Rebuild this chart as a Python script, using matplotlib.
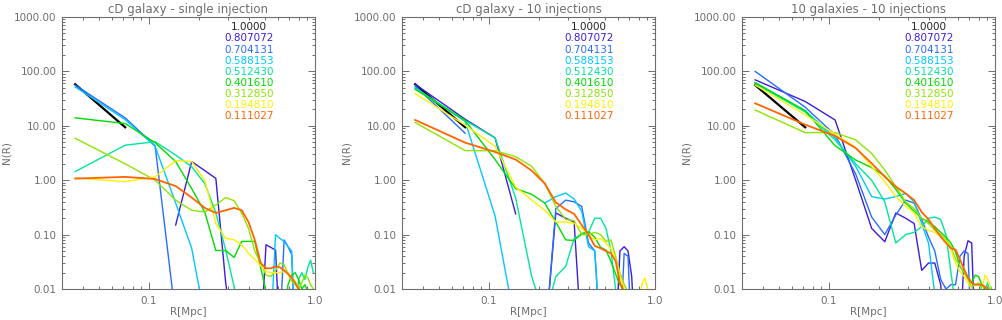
import numpy as np
import matplotlib
matplotlib.use("Agg")
import matplotlib.pyplot as plt
from matplotlib.ticker import FixedLocator, FixedFormatter, NullFormatter

nan = np.nan

# radial bins (Mpc)
R = [0.036, 0.072, 0.109, 0.145, 0.181, 0.217, 0.253, 0.290, 0.326, 0.362,
     0.398, 0.434, 0.471, 0.507, 0.543, 0.579, 0.615, 0.652, 0.688, 0.724,
     0.760, 0.796, 0.833, 0.869, 0.905, 0.941, 0.977]

labels = ["1.0000", "0.807072", "0.704131", "0.588153", "0.512430",
          "0.401610", "0.312850", "0.194810", "0.111027"]
colors = ["#000000", "#3c1edc", "#2a6cff", "#00c8ff", "#00e69a",
          "#00dc00", "#8ce600", "#fff000", "#ff6400"]
titles = ["cD galaxy - single injection", "cD galaxy - 10 injections",
          "10 galaxies - 10 injections"]

# --- cD galaxy, single injection
p1_black = [58, 9.4]
p1_dblue = [nan, nan, nan, 0.15, 2.2, 1.5, 1.08, 0.013, 0.001, nan, nan, nan,
            0.001, 0.065, 0.058, 0.052, 0.001]
p1_blue = [56, 14, 4.3, 0.003] + [nan] * 12 + [0.002, 0.08, 0.06, 0.043, 0.001]
p1_cyan = [52, 13, 4.2, 0.38, 0.056, 0.003] + [nan] * 8 + \
          [0.002, 0.1, 0.085, 0.075, 0.06, 0.05, 0.001]
p1_sgreen = [1.44, 4.4, 5.1, 2.9, 1.77, 0.87, 0.25, 0.052, 0.011, 0.001] + \
            [nan] * 10 + [0.002, 0.015, 0.02, 0.015, 0.025, 0.034, 0.02]
p1_green = [14, 11, 4.9, 2.2, 0.7, 0.26, 0.051, 0.051, 0.038, 0.075, 0.075,
            0.075, 0.025, 0.009, 0.004, nan, nan, 0.003, 0.012, 0.018, 0.02,
            0.015, 0.01, 0.012, 0.009, 0.006, 0.004]
p1_ygreen = [5.9, 2.0, 1.0, 0.43, 0.28, 0.26, 0.35, 0.48, 0.42, 0.25, 0.13,
             0.05, 0.03, 0.018, 0.017, 0.022, 0.03, 0.028, 0.019, 0.014,
             0.012, 0.01, 0.013, 0.018, 0.016, 0.012, 0.01]
p1_yellow = [1.1, 0.94, 1.15, 2.3, 2.2, 1.0, 0.16, 0.085, 0.08, 0.065, 0.045,
             0.035, 0.027, 0.021, 0.02, 0.02, 0.02, 0.021, 0.02, 0.016, 0.014,
             0.01, 0.008, 0.006]
p1_orange = [1.07, 1.15, 1.05, 0.78, 0.48, 0.31, 0.25, 0.28, 0.31, 0.28, 0.17,
             0.08, 0.03, 0.024, 0.024, 0.026, 0.025, 0.022, 0.019, 0.016,
             0.013, 0.01, 0.008, 0.006]

# --- cD galaxy, 10 injections
p2_black = [58, 9.4]
p2_dblue = [58, 13.2, 6.0, 0.24, nan, 0.001, 0.25, 0.2, 0.17, 0.001] + \
           [nan] * 5 + [0.001, 0.05, 0.06, 0.05, 0.017, 0.001]
p2_blue = [54, 7.3] + [nan] * 3 + [0.001, 0.3, 0.43, 0.4, 0.33, 0.07, 0.05,
                                   0.001] + [nan] * 3 + [0.001, 0.045, 0.04, 0.001]
p2_cyan = [50, 12, 0.22, 0.002, nan, 0.38, 0.5, 0.58, 0.45, 0.27, 0.06, 0.05,
           0.001]
p2_sgreen = [49, 12.5, 6.0, 0.47, 0.017, 0.003, 0.017, 0.026, 0.085, 0.1, 0.11,
             0.2, 0.2, 0.13, 0.05, 0.01, 0.001]
p2_green = [47, 12.5, 2.4, 0.7, 0.55, 0.38, 0.17, 0.08, 0.078, 0.105, 0.113,
            0.09, 0.058, 0.052, 0.032, 0.019, 0.012, 0.009, 0.007, 0.005]
p2_ygreen = [11.5, 3.5, 3.5, 2.7, 1.8, 0.87, 0.33, 0.19, 0.18, 0.1, 0.1, 0.11,
             0.1, 0.075, 0.08, 0.04, 0.02, 0.012, 0.009, 0.006]
p2_yellow = [39, 10.3, 4.2, 0.75, 0.43, 0.28, 0.17, 0.17, 0.16, 0.13, 0.1,
             0.08, 0.085, 0.07, 0.055, 0.035, 0.018, 0.01, 0.008, 0.006, 0.005,
             0.004, 0.012, 0.016, 0.01, 0.004]
p2_orange = [12.8, 4.9, 3.3, 2.4, 1.5, 0.87, 0.39, 0.29, 0.24, 0.15, 0.1,
             0.062, 0.056, 0.05, 0.045, 0.033, 0.013, 0.009, 0.007]

# --- 10 galaxies, 10 injections
p3_black = [56, 9.4]
p3_dblue = [70, 28, 12.8, 1.0, 0.13, 0.074, 0.25, 0.2, 0.16, 0.022, 0.03, 0.03,
            0.012, 0.001, nan, nan, 0.001, 0.04, 0.077, 0.07, 0.001]
p3_blue = [100, 22, 6.8, 1.3, 0.21, 0.1, 0.23, 0.43, 0.38, 0.19, 0.09, 0.05,
           0.015, 0.01, 0.012, 0.012, 0.04, 0.05, 0.045, 0.001]
p3_cyan = [62, 19, 6.0, 1.8, 0.5, 0.45, 0.5, 0.57, 0.4, 0.16, 0.07, 0.008,
           0.001]
p3_sgreen = [60, 18, 5.5, 2.0, 1.0, 0.4, 0.07, 0.1, 0.11, 0.14, 0.2, 0.21,
             0.19, 0.1, 0.02, 0.005] + [nan] * 5 + \
            [0.005, 0.012, 0.01, 0.013, 0.008, 0.005]
p3_green = [62, 19, 4.3, 2.35, 1.7, 1.2, 0.68, 0.38, 0.27, 0.2, 0.17, 0.14,
            0.11, 0.09, 0.07, 0.048, 0.026, 0.02, 0.017, 0.013, 0.018, 0.017,
            0.012, 0.01, 0.009, 0.011, 0.008]
p3_ygreen = [19.5, 7.5, 7.5, 5.5, 3.1, 1.54, 0.76, 0.4, 0.3, 0.2, 0.16, 0.12,
             0.1, 0.08, 0.06, 0.035, 0.027, 0.02, 0.015, 0.011, 0.012, 0.013,
             0.01, 0.009, 0.01, 0.008, 0.007]
p3_yellow = [56, 16, 7.0, 4.0, 1.77, 0.94, 0.5, 0.33, 0.25, 0.14, 0.12, 0.11,
             0.092, 0.075, 0.053, 0.03, 0.021, 0.017, 0.013, 0.01, 0.009,
             0.009, 0.009, 0.018, 0.015, 0.01, 0.007]
p3_orange = [25.9, 10.5, 6.5, 3.9, 2.04, 1.16, 0.76, 0.57, 0.43, 0.26, 0.19,
             0.13, 0.092, 0.07, 0.056, 0.053, 0.035, 0.023, 0.016, 0.013,
             0.012, 0.012, 0.012, 0.011, 0.01, 0.008, 0.006]

panels = [
    [p1_black, p1_dblue, p1_blue, p1_cyan, p1_sgreen, p1_green, p1_ygreen, p1_yellow, p1_orange],
    [p2_black, p2_dblue, p2_blue, p2_cyan, p2_sgreen, p2_green, p2_ygreen, p2_yellow, p2_orange],
    [p3_black, p3_dblue, p3_blue, p3_cyan, p3_sgreen, p3_green, p3_ygreen, p3_yellow, p3_orange],
]


def pad(v):
    return np.array(list(v) + [nan] * (len(R) - len(v)), dtype=float)


W, H = 1003, 320
fig = plt.figure(figsize=(W / 100, H / 100), dpi=100)
fig.patch.set_facecolor("white")

grey = "#6e6e6e"
lefts = [62, 402, 742]
for i, (series, title) in enumerate(zip(panels, titles)):
    ax = fig.add_axes([lefts[i] / W, 1 - 289 / H, 253 / W, 272 / H])
    for j, (vals, c) in enumerate(zip(series, colors)):
        lw = 1.6 if j == 0 else (1.3 if j == 8 else 1.0)
        ax.plot(R, pad(vals), color=c, lw=lw, zorder=2 + j)
        ax.text(0.74, 0.962 - j * 0.0408, labels[j], color=c if j else "#222222",
                transform=ax.transAxes, ha="center", va="center", fontsize=7.5)
    ax.set_xscale("log")
    ax.set_yscale("log")
    ax.set_xlim(0.03, 1.0)
    ax.set_ylim(0.01, 1000)

    ax.xaxis.set_major_locator(FixedLocator([0.1, 1.0]))
    ax.xaxis.set_major_formatter(FixedFormatter(["0.1", "1.0"]))
    ax.xaxis.set_minor_locator(FixedLocator([0.03, 0.04, 0.05, 0.06, 0.07, 0.08, 0.09,
                                             0.2, 0.3, 0.4, 0.5, 0.6, 0.7, 0.8, 0.9]))
    ax.xaxis.set_minor_formatter(NullFormatter())
    yt = [0.01, 0.1, 1, 10, 100, 1000]
    ax.yaxis.set_major_locator(FixedLocator(yt))
    ax.yaxis.set_major_formatter(FixedFormatter(["%.2f" % v for v in yt]))
    ax.yaxis.set_minor_locator(FixedLocator([m * d for d in yt[:-1] for m in range(2, 10)]))
    ax.yaxis.set_minor_formatter(NullFormatter())

    ax.tick_params(which="both", direction="in", top=True, right=True,
                   color=grey, labelcolor=grey, labelsize=7.5, width=0.7)
    ax.tick_params(which="major", length=5, pad=4)
    ax.tick_params(axis="x", which="major", pad=5)
    ax.tick_params(which="minor", length=2.5)
    for s in ax.spines.values():
        s.set_color(grey)
        s.set_linewidth(0.8)

    ax.set_title(title, color=grey, fontsize=8.5, pad=3)
    ax.set_xlabel("R[Mpc]", color=grey, fontsize=7.5, labelpad=0.5)
    ax.set_ylabel("N(R)", color=grey, fontsize=7.5, labelpad=2)

fig.savefig("out.png", dpi=100, facecolor="white")
